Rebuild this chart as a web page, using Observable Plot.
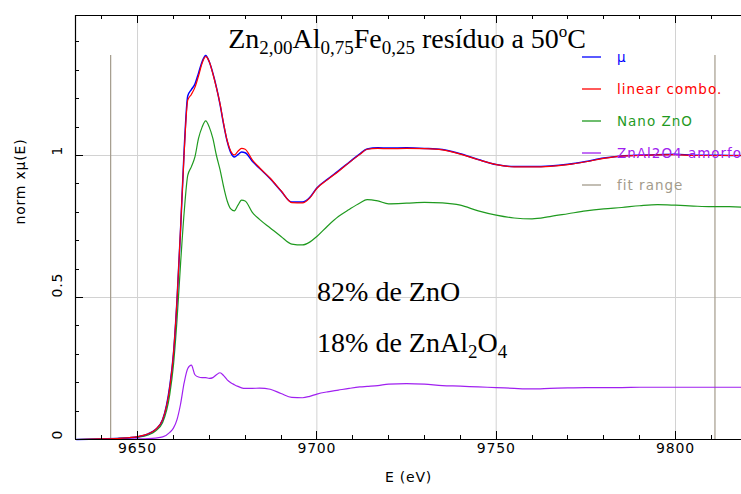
<!DOCTYPE html>
<html><head><meta charset="utf-8">
<script src="https://cdn.jsdelivr.net/npm/d3@7"></script>
<script src="https://cdn.jsdelivr.net/npm/@observablehq/plot@0.6"></script>
<style>
html,body{margin:0;padding:0;background:#fff;}
</style>
</head><body><div id="chart"></div>
<script>
// ---------- data ----------
const energy = [9633, 9640, 9645, 9650, 9653, 9655, 9657, 9659, 9660, 9661, 9662, 9663, 9664, 9665, 9666, 9667, 9668, 9669, 9670, 9671, 9672, 9673, 9674, 9675, 9676, 9677, 9678, 9679, 9680, 9682, 9684, 9687, 9690, 9693, 9696, 9698, 9700, 9703, 9706, 9709, 9712, 9714, 9717, 9720, 9725, 9730, 9735, 9740, 9745, 9750, 9755, 9760, 9765, 9770, 9775, 9780, 9785, 9790, 9795, 9800, 9805, 9810, 9815, 9819];
const muData = [0.000, 0.002, 0.004, 0.010, 0.020, 0.035, 0.070, 0.190, 0.300, 0.490, 0.740, 1.020, 1.210, 1.232, 1.252, 1.290, 1.330, 1.352, 1.330, 1.290, 1.240, 1.180, 1.110, 1.050, 1.010, 0.995, 1.003, 1.012, 1.010, 0.980, 0.955, 0.918, 0.875, 0.836, 0.836, 0.852, 0.886, 0.917, 0.946, 0.976, 1.006, 1.023, 1.027, 1.026, 1.027, 1.025, 1.021, 1.006, 0.986, 0.968, 0.961, 0.961, 0.963, 0.969, 0.979, 0.991, 0.998, 1.001, 1.003, 1.004, 1.001, 1.001, 1.000, 1.000];
const linearCombo = [0.000, 0.002, 0.004, 0.010, 0.020, 0.035, 0.070, 0.185, 0.300, 0.490, 0.745, 1.010, 1.195, 1.215, 1.240, 1.280, 1.325, 1.348, 1.330, 1.288, 1.238, 1.182, 1.112, 1.052, 1.015, 1.002, 1.015, 1.025, 1.022, 0.985, 0.957, 0.920, 0.876, 0.834, 0.833, 0.850, 0.884, 0.915, 0.944, 0.975, 1.004, 1.022, 1.025, 1.024, 1.025, 1.024, 1.020, 1.005, 0.985, 0.968, 0.960, 0.960, 0.962, 0.968, 0.978, 0.990, 0.998, 1.000, 1.002, 1.003, 1.000, 1.000, 1.000, 1.000];
const nanoZnO = [0.000, 0.002, 0.004, 0.008, 0.016, 0.030, 0.060, 0.160, 0.260, 0.420, 0.620, 0.800, 0.930, 0.960, 0.995, 1.060, 1.100, 1.122, 1.100, 1.060, 1.000, 0.950, 0.890, 0.840, 0.812, 0.805, 0.825, 0.843, 0.840, 0.800, 0.775, 0.745, 0.715, 0.688, 0.685, 0.695, 0.715, 0.752, 0.785, 0.810, 0.833, 0.845, 0.840, 0.830, 0.832, 0.835, 0.833, 0.825, 0.805, 0.790, 0.780, 0.777, 0.785, 0.795, 0.805, 0.812, 0.817, 0.823, 0.827, 0.825, 0.822, 0.820, 0.820, 0.818];
const znAl2O4 = [0.000, 0.000, 0.001, 0.002, 0.003, 0.005, 0.009, 0.025, 0.040, 0.070, 0.125, 0.200, 0.250, 0.262, 0.228, 0.220, 0.218, 0.218, 0.215, 0.218, 0.228, 0.235, 0.225, 0.210, 0.200, 0.193, 0.187, 0.182, 0.180, 0.180, 0.181, 0.177, 0.162, 0.148, 0.147, 0.152, 0.160, 0.168, 0.174, 0.180, 0.185, 0.187, 0.190, 0.195, 0.197, 0.195, 0.190, 0.188, 0.185, 0.183, 0.180, 0.178, 0.180, 0.182, 0.183, 0.183, 0.183, 0.184, 0.184, 0.184, 0.184, 0.184, 0.184, 0.184];
const fitRange = [9642.5, 9811];
const fitTop = 1.352;

const xDomain = [9632.7, 9818.4];
const yDomain = [0, 1.493];
const xMajorTicks = [9650, 9700, 9750, 9800];
const xTickLabels = ["9650", "9700", "9750", "9800"];
const xMinorTicks = [9640, 9660, 9670, 9680, 9690, 9710, 9720, 9730, 9740, 9760, 9770, 9780, 9790, 9810];
const yMajorTicks = [0, 0.5, 1];
const yMinorTicks = [0.1, 0.2, 0.3, 0.4, 0.6, 0.7, 0.8, 0.9, 1.1, 1.2, 1.3, 1.4];
const yTickLabels = ["0", "0.5", "1"];
const gridY = [0.5, 1];

const legendLabels = ["\u03bc", "linear combo.", "Nano ZnO", "ZnAl2O4 amorfo", "fit range"];
const legendColors = ["#0000ff", "#ff0000", "#1f9a1f", "#a020f0", "#a39b8b"];

const titleParts = [["Zn", "n"], ["2,00", "sub"], ["Al", "n"], ["0,75", "sub"], ["Fe", "n"], ["0,25", "sub"], [" res\u00edduo a 50", "n"], ["o", "sup"], ["C", "n"]];
const note1Parts = [["82% de ZnO", "n"]];
const note2Parts = [["18% de ZnAl", "n"], ["2", "sub"], ["O", "n"], ["4", "sub"]];
const titleAt = [9675.4, 1.3785];
const note1At = [9700.2, 0.487];
const note2At = [9700.2, 0.3074];

// ---------- table ----------
const rows = energy.map((e, i) => ({E: e, mu: muData[i], combo: linearCombo[i], zno: nanoZnO[i], znal: znAl2O4[i]}));

const serif = "'Liberation Serif','Times New Roman',serif";
const sans = "'DejaVu Sans',sans-serif";

function richText(g, parts, pos, scales) {
  const t = g.append("text")
    .attr("x", scales.x(pos[0])).attr("y", scales.y(pos[1]))
    .attr("text-anchor", "start")
    .attr("font-family", serif).attr("font-size", 28)
    .attr("letter-spacing", 0).attr("fill", "black");
  let shift = 0;
  for (const [s, kind] of parts) {
    const target = kind === "sub" ? 6 : kind === "sup" ? -11 : 0;
    const ts = t.append("tspan").text(s).attr("dy", target - shift);
    if (kind === "sub") ts.attr("font-size", 19);
    if (kind === "sup") ts.attr("font-size", 17);
    shift = target;
  }
}

// inward frame ticks, placed with the plot's own scales
function frameTicks(index, scales, values, dimensions) {
  const g = d3.create("svg:g").attr("stroke", "black").attr("stroke-width", 1);
  const y0 = scales.y(yDomain[0]), y1 = scales.y(yDomain[1]), x0 = scales.x(xDomain[0]);
  const add = (ticks, len) => {
    for (const t of ticks) {
      const x = Math.round(scales.x(t)) + 0.5;
      g.append("line").attr("x1", x).attr("x2", x).attr("y1", y0).attr("y2", y0 - len);
      g.append("line").attr("x1", x).attr("x2", x).attr("y1", y1).attr("y2", y1 + len);
    }
  };
  add(xMajorTicks, 8);
  add(xMinorTicks, 4);
  const addY = (ticks, len) => {
    for (const t of ticks) {
      const y = Math.round(scales.y(t)) + 0.5;
      g.append("line").attr("x1", x0).attr("x2", x0 + len).attr("y1", y).attr("y2", y);
    }
  };
  addY(yMajorTicks, 8);
  addY(yMinorTicks, 4);
  return g.node();
}

function overlay(index, scales, values, dimensions) {
  const g = d3.create("svg:g");
  richText(g, titleParts, titleAt, scales);
  richText(g, note1Parts, note1At, scales);
  richText(g, note2Parts, note2At, scales);
  const W = dimensions.width;
  const top = dimensions.marginTop;
  legendLabels.forEach((lab, i) => {
    const y = top + 42 + 32 * i;
    g.append("line").attr("x1", W - 159).attr("x2", W - 140).attr("y1", y).attr("y2", y)
      .attr("stroke", legendColors[i]).attr("stroke-width", 1.3);
    g.append("text").attr("x", W - 124).attr("y", y).attr("dy", "0.35em")
      .attr("text-anchor", "start")
      .attr("fill", legendColors[i]).attr("font-family", sans)
      .attr("font-size", 13.5).attr("letter-spacing", "1px").text(lab);
  });
  return g.node();
}

const chart = Plot.plot({
  width: 741,
  height: 494,
  marginLeft: 75,
  marginRight: 0,
  marginTop: 15,
  marginBottom: 55,
  style: "font-family:'DejaVu Sans',sans-serif;letter-spacing:0.8px;background:#fff;color:#000;",
  x: {domain: xDomain, axis: null},
  y: {domain: yDomain, axis: null},
  marks: [
    Plot.ruleX(xMajorTicks, {stroke: "#d2d2d2", strokeWidth: 1}),
    Plot.ruleY(gridY, {stroke: "#d2d2d2", strokeWidth: 1}),
    Plot.ruleX(fitRange, {y1: 0, y2: fitTop, stroke: legendColors[4], strokeWidth: 1.2}),
    Plot.line(rows, {x: "E", y: "zno", stroke: legendColors[2], strokeWidth: 1.2, curve: "monotone-x"}),
    Plot.line(rows, {x: "E", y: "znal", stroke: legendColors[3], strokeWidth: 1.2, curve: "monotone-x"}),
    Plot.line(rows, {x: "E", y: "mu", stroke: legendColors[0], strokeWidth: 1.5, curve: "monotone-x"}),
    Plot.line(rows, {x: "E", y: "combo", stroke: legendColors[1], strokeWidth: 1.2, curve: "monotone-x"}),
    // frame
    Plot.ruleY([yDomain[0]], {stroke: "black", strokeWidth: 1.2}),
    Plot.ruleY([yDomain[1]], {stroke: "black", strokeWidth: 1.2}),
    Plot.ruleX([xDomain[0]], {stroke: "black", strokeWidth: 1.2}),
    frameTicks,
    Plot.text(xMajorTicks, {x: d => d, text: (d, i) => xTickLabels[i], frameAnchor: "bottom", dy: 13, fontSize: 14, fill: "black"}),
    Plot.text(yMajorTicks, {y: d => d, text: (d, i) => yTickLabels[i], frameAnchor: "left", dx: -18, rotate: -90, fontSize: 14, fill: "black"}),
    Plot.text(["E (eV)"], {frameAnchor: "bottom", dy: 42, fontSize: 14, fill: "black"}),
    Plot.text(["norm x\u03bc(E)"], {frameAnchor: "left", dx: -55, dy: -3, rotate: -90, fontSize: 14, fill: "black"}),
    overlay
  ]
});
document.getElementById("chart").appendChild(chart);
</script>
</body></html>
